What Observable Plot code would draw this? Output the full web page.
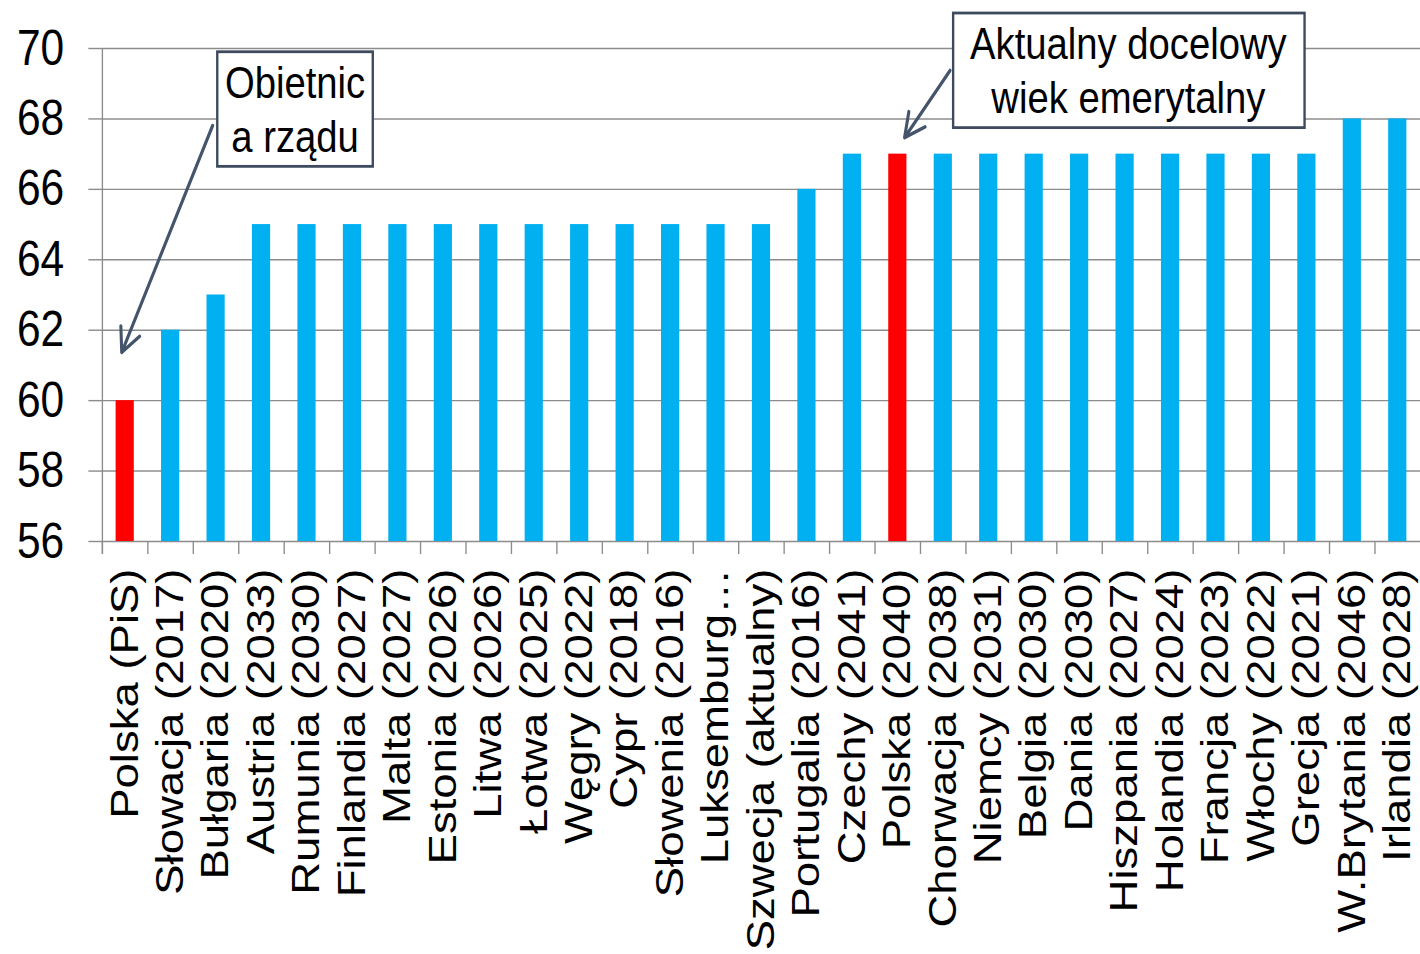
<!DOCTYPE html>
<html>
<head>
<meta charset="utf-8">
<script src="https://cdn.jsdelivr.net/npm/d3@7"></script>
<script src="https://cdn.jsdelivr.net/npm/@observablehq/plot@0.6"></script>
<style>
  body { margin: 0; background: #fff; }
  #chart { width: 1420px; height: 954px; overflow: hidden; }
</style>
</head>
<body>
<div id="chart"></div>
<script>
// ---- data ----
const countries = [
  "Polska (PiS)", "Słowacja (2017)", "Bułgaria (2020)", "Austria (2033)", "Rumunia (2030)",
  "Finlandia (2027)", "Malta (2027)", "Estonia (2026)", "Litwa (2026)", "Łotwa (2025)",
  "Węgry (2022)", "Cypr (2018)", "Słowenia (2016)", "Luksemburg…", "Szwecja (aktualny)",
  "Portugalia (2016)", "Czechy (2041)", "Polska (2040)", "Chorwacja (2038)", "Niemcy (2031)",
  "Belgia (2030)", "Dania (2030)", "Hiszpania (2027)", "Holandia (2024)", "Francja (2023)",
  "Włochy (2022)", "Grecja (2021)", "W.Brytania (2046)", "Irlandia (2028)"
];
const ages = [
  60, 62, 63, 65, 65,
  65, 65, 65, 65, 65,
  65, 65, 65, 65, 65,
  66, 67, 67, 67, 67,
  67, 67, 67, 67, 67,
  67, 67, 68, 68
];
const highlighted = ["Polska (PiS)", "Polska (2040)"];
const yTicks = [56, 58, 60, 62, 64, 66, 68, 70];

const annotationTexts = ["Obietnic\na rządu", "Aktualny docelowy\nwiek emerytalny"];
const annotationX = ["Rumunia (2030)", "Hiszpania (2027)"];
const annotationY = [68.32, 69.42];
const arrowFromX = ["Bułgaria (2020)", "Chorwacja (2038)"];
const arrowFromY = [67.81, 69.375];
const arrowToX = ["Polska (PiS)", "Polska (2040)"];
const arrowToY = [61.37, 67.47];

// ---- layout (design space, later squeezed horizontally to 1420px) ----
const W = 1671, H = 954;
const mLeft = 120, mRight = 0, mTop = 48, mBottom = 413;
const step = (W - mLeft - mRight) / countries.length;

const bars = countries.map((c, i) => ({country: c, age: ages[i]}));
const ann = annotationTexts.map((t, i) => ({text: t, x: annotationX[i], y: annotationY[i]}));
const arrows = arrowFromX.map((f, i) => ({x1: f, y1: arrowFromY[i], x2: arrowToX[i], y2: arrowToY[i]}));

const gray = "#8c8c8c";
const slate = "#44546A";

const chart = Plot.plot({
  width: W,
  height: H,
  marginLeft: mLeft,
  marginRight: mRight,
  marginTop: mTop,
  marginBottom: mBottom,
  style: {fontFamily: '"Liberation Sans", Arial, sans-serif', background: "white", color: "black"},
  x: {domain: countries, paddingInner: 0.6, paddingOuter: 0.3, round: false, label: null},
  y: {domain: [56, 70], clamp: true, label: null},
  marks: [
    Plot.gridY(yTicks, {stroke: gray, strokeOpacity: 1, strokeWidth: 1.4}),
    Plot.axisY(yTicks, {tickSize: 16, tickPadding: 29, fontSize: 50, stroke: gray, fill: "black", label: null, strokeWidth: 1.4}),
    Plot.barY(bars, {
      x: "country",
      y: "age",
      fill: d => highlighted.includes(d.country) ? "#FF0000" : "#00B0F0"
    }),
    // category boundary ticks
    Plot.ruleX(countries, {x: d => d, dx: -step / 2, y1: 56, y2: 56, insetBottom: -13, stroke: gray, strokeWidth: 1.6}),
    // vertical axis line
    Plot.ruleX([countries[0]], {x: d => d, dx: -step / 2, y1: 70, y2: 56, insetBottom: -13, stroke: gray, strokeWidth: 1.6}),
    Plot.axisX({tickRotate: -90, tickSize: 0, tickPadding: 27, fontSize: 45.5, label: null, fill: "black"}),
    Plot.arrow([arrows[0]], {x1: "x1", y1: "y1", x2: "x2", y2: "y2", dx: -4, stroke: slate, strokeWidth: 3.6, headLength: 11, headAngle: 55}),
    Plot.arrow([arrows[1]], {x1: "x1", y1: "y1", x2: "x2", y2: "y2", dx: 8, stroke: slate, strokeWidth: 3.6, headLength: 11, headAngle: 55}),
    Plot.text([ann[0]], {x: "x", y: "y", text: "text", dx: -14, fontSize: 45, lineHeight: 1.2, fill: "black"}),
    Plot.text([ann[1]], {x: "x", y: "y", text: "text", dx: 4, fontSize: 45, lineHeight: 1.2, fill: "black"})
  ]
});

document.getElementById("chart").appendChild(chart);

// boxes around annotation texts
const padX = [9, 20], padY = [5, 5];
const annTexts = chart.querySelectorAll('g[aria-label="text"] > text');
annTexts.forEach((t, i) => {
  const bb = t.getBBox();
  const r = document.createElementNS("http://www.w3.org/2000/svg", "rect");
  r.setAttribute("x", bb.x - padX[i]);
  r.setAttribute("y", bb.y - padY[i]);
  r.setAttribute("width", bb.width + 2 * padX[i]);
  r.setAttribute("height", bb.height + 2 * padY[i]);
  r.setAttribute("fill", "white");
  r.setAttribute("stroke", "#3E4B5E");
  r.setAttribute("stroke-width", 2.8);
  const tr = t.getAttribute("transform");
  if (tr) r.setAttribute("transform", tr);
  t.parentNode.insertBefore(r, t);
});

// squeeze the design horizontally into the 1420px frame (the reference is a horizontally compressed rendering)
chart.setAttribute("viewBox", `0 0 ${W} ${H}`);
chart.setAttribute("preserveAspectRatio", "none");
chart.setAttribute("width", 1420);
chart.setAttribute("height", H);
chart.style.width = "1420px";
chart.style.height = H + "px";
chart.style.maxWidth = "none";
</script>
</body>
</html>
